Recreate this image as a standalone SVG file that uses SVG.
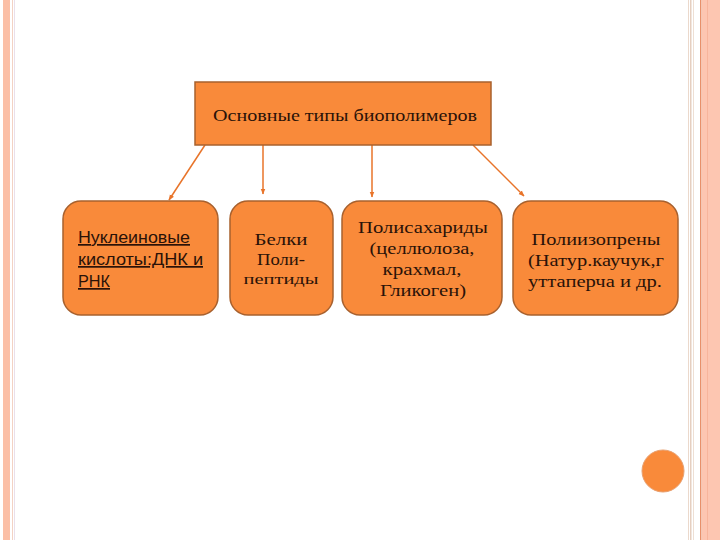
<svg xmlns="http://www.w3.org/2000/svg" width="720" height="540" viewBox="0 0 720 540">
<defs>
<marker id="ah" viewBox="0 0 10 10" refX="9" refY="5" markerWidth="4" markerHeight="4" orient="auto">
<path d="M0,1 L10,5 L0,9 z" fill="#E8742A"/>
</marker>
<style>
.node{fill:#F98A3A;stroke:#A8612E;stroke-width:1.5}
.ser{font-family:"Liberation Serif","Times New Roman",serif;fill:#2a1208;text-anchor:middle;font-size:17px}
.san{font-family:"Liberation Sans",Arial,sans-serif;fill:#2a1208;text-decoration:underline;font-size:17px}
.conn{stroke:#E8742A;stroke-width:1.5;fill:none;marker-end:url(#ah)}
</style>
</defs>
<rect width="720" height="540" fill="#ffffff"/>
<g id="border">
<rect x="3" y="0" width="7" height="540" fill="#FBBFA6"/>
<rect x="12" y="0" width="1" height="540" fill="#F3D2C4"/>
<rect x="14" y="0" width="1" height="540" fill="#EADFEA"/>
<rect x="688" y="0" width="1" height="540" fill="#EBD9CC"/>
<rect x="690" y="0" width="1.5" height="540" fill="#E6CFC0"/>
<rect x="693" y="0" width="1" height="540" fill="#EEDFD4"/>
<rect x="700" y="0" width="1.5" height="540" fill="#E8906A"/>
<rect x="702" y="0" width="18" height="540" fill="#FDC6B1"/>
<rect x="707" y="0" width="1" height="540" fill="#F7B59C"/>
</g>
<g id="connectors">
<line class="conn" x1="205" y1="145" x2="169" y2="200"/>
<line class="conn" x1="263" y1="145" x2="263" y2="194"/>
<line class="conn" x1="372" y1="145" x2="372" y2="197"/>
<line class="conn" x1="473" y1="145" x2="524" y2="196"/>
</g>
<g id="root">
<rect class="node" x="195" y="82" width="296" height="63"/>
<text class="ser" x="345" y="121" style="font-size:16px" textLength="264" lengthAdjust="spacingAndGlyphs">Основные типы биополимеров</text>
</g>
<g id="n1">
<rect class="node" x="63" y="201" width="155" height="114" rx="18"/>
<text class="san" x="78" y="243" textLength="112" lengthAdjust="spacingAndGlyphs">Нуклеиновые</text>
<text class="san" x="78" y="265" textLength="125" lengthAdjust="spacingAndGlyphs">кислоты:ДНК и</text>
<text class="san" x="78" y="287" textLength="32" lengthAdjust="spacingAndGlyphs">РНК</text>
</g>
<g id="n2">
<rect class="node" x="230" y="201" width="103" height="114" rx="18"/>
<text class="ser" x="281" y="245" textLength="53" lengthAdjust="spacingAndGlyphs">Белки</text>
<text class="ser" x="281" y="265" textLength="48" lengthAdjust="spacingAndGlyphs">Поли-</text>
<text class="ser" x="281" y="284" style="font-size:14px" textLength="75" lengthAdjust="spacingAndGlyphs">пептиды</text>
</g>
<g id="n3">
<rect class="node" x="342" y="201" width="160" height="114" rx="18"/>
<text class="ser" x="423" y="233" textLength="130" lengthAdjust="spacingAndGlyphs">Полисахариды</text>
<text class="ser" x="422" y="254" textLength="105" lengthAdjust="spacingAndGlyphs">(целлюлоза,</text>
<text class="ser" x="422" y="275" textLength="79" lengthAdjust="spacingAndGlyphs">крахмал,</text>
<text class="ser" x="423" y="296" textLength="86" lengthAdjust="spacingAndGlyphs">Гликоген)</text>
</g>
<g id="n4">
<rect class="node" x="513" y="201" width="165" height="114" rx="18"/>
<text class="ser" x="596" y="245" textLength="129" lengthAdjust="spacingAndGlyphs">Полиизопрены</text>
<text class="ser" x="596" y="266" textLength="136" lengthAdjust="spacingAndGlyphs">(Натур.каучук,г</text>
<text class="ser" x="595" y="287" textLength="134" lengthAdjust="spacingAndGlyphs">уттаперча и др.</text>
</g>
<g id="dot">
<circle cx="663" cy="471" r="21" fill="#F98A3A" stroke="#E8A070" stroke-width="1"/>
</g>
</svg>
